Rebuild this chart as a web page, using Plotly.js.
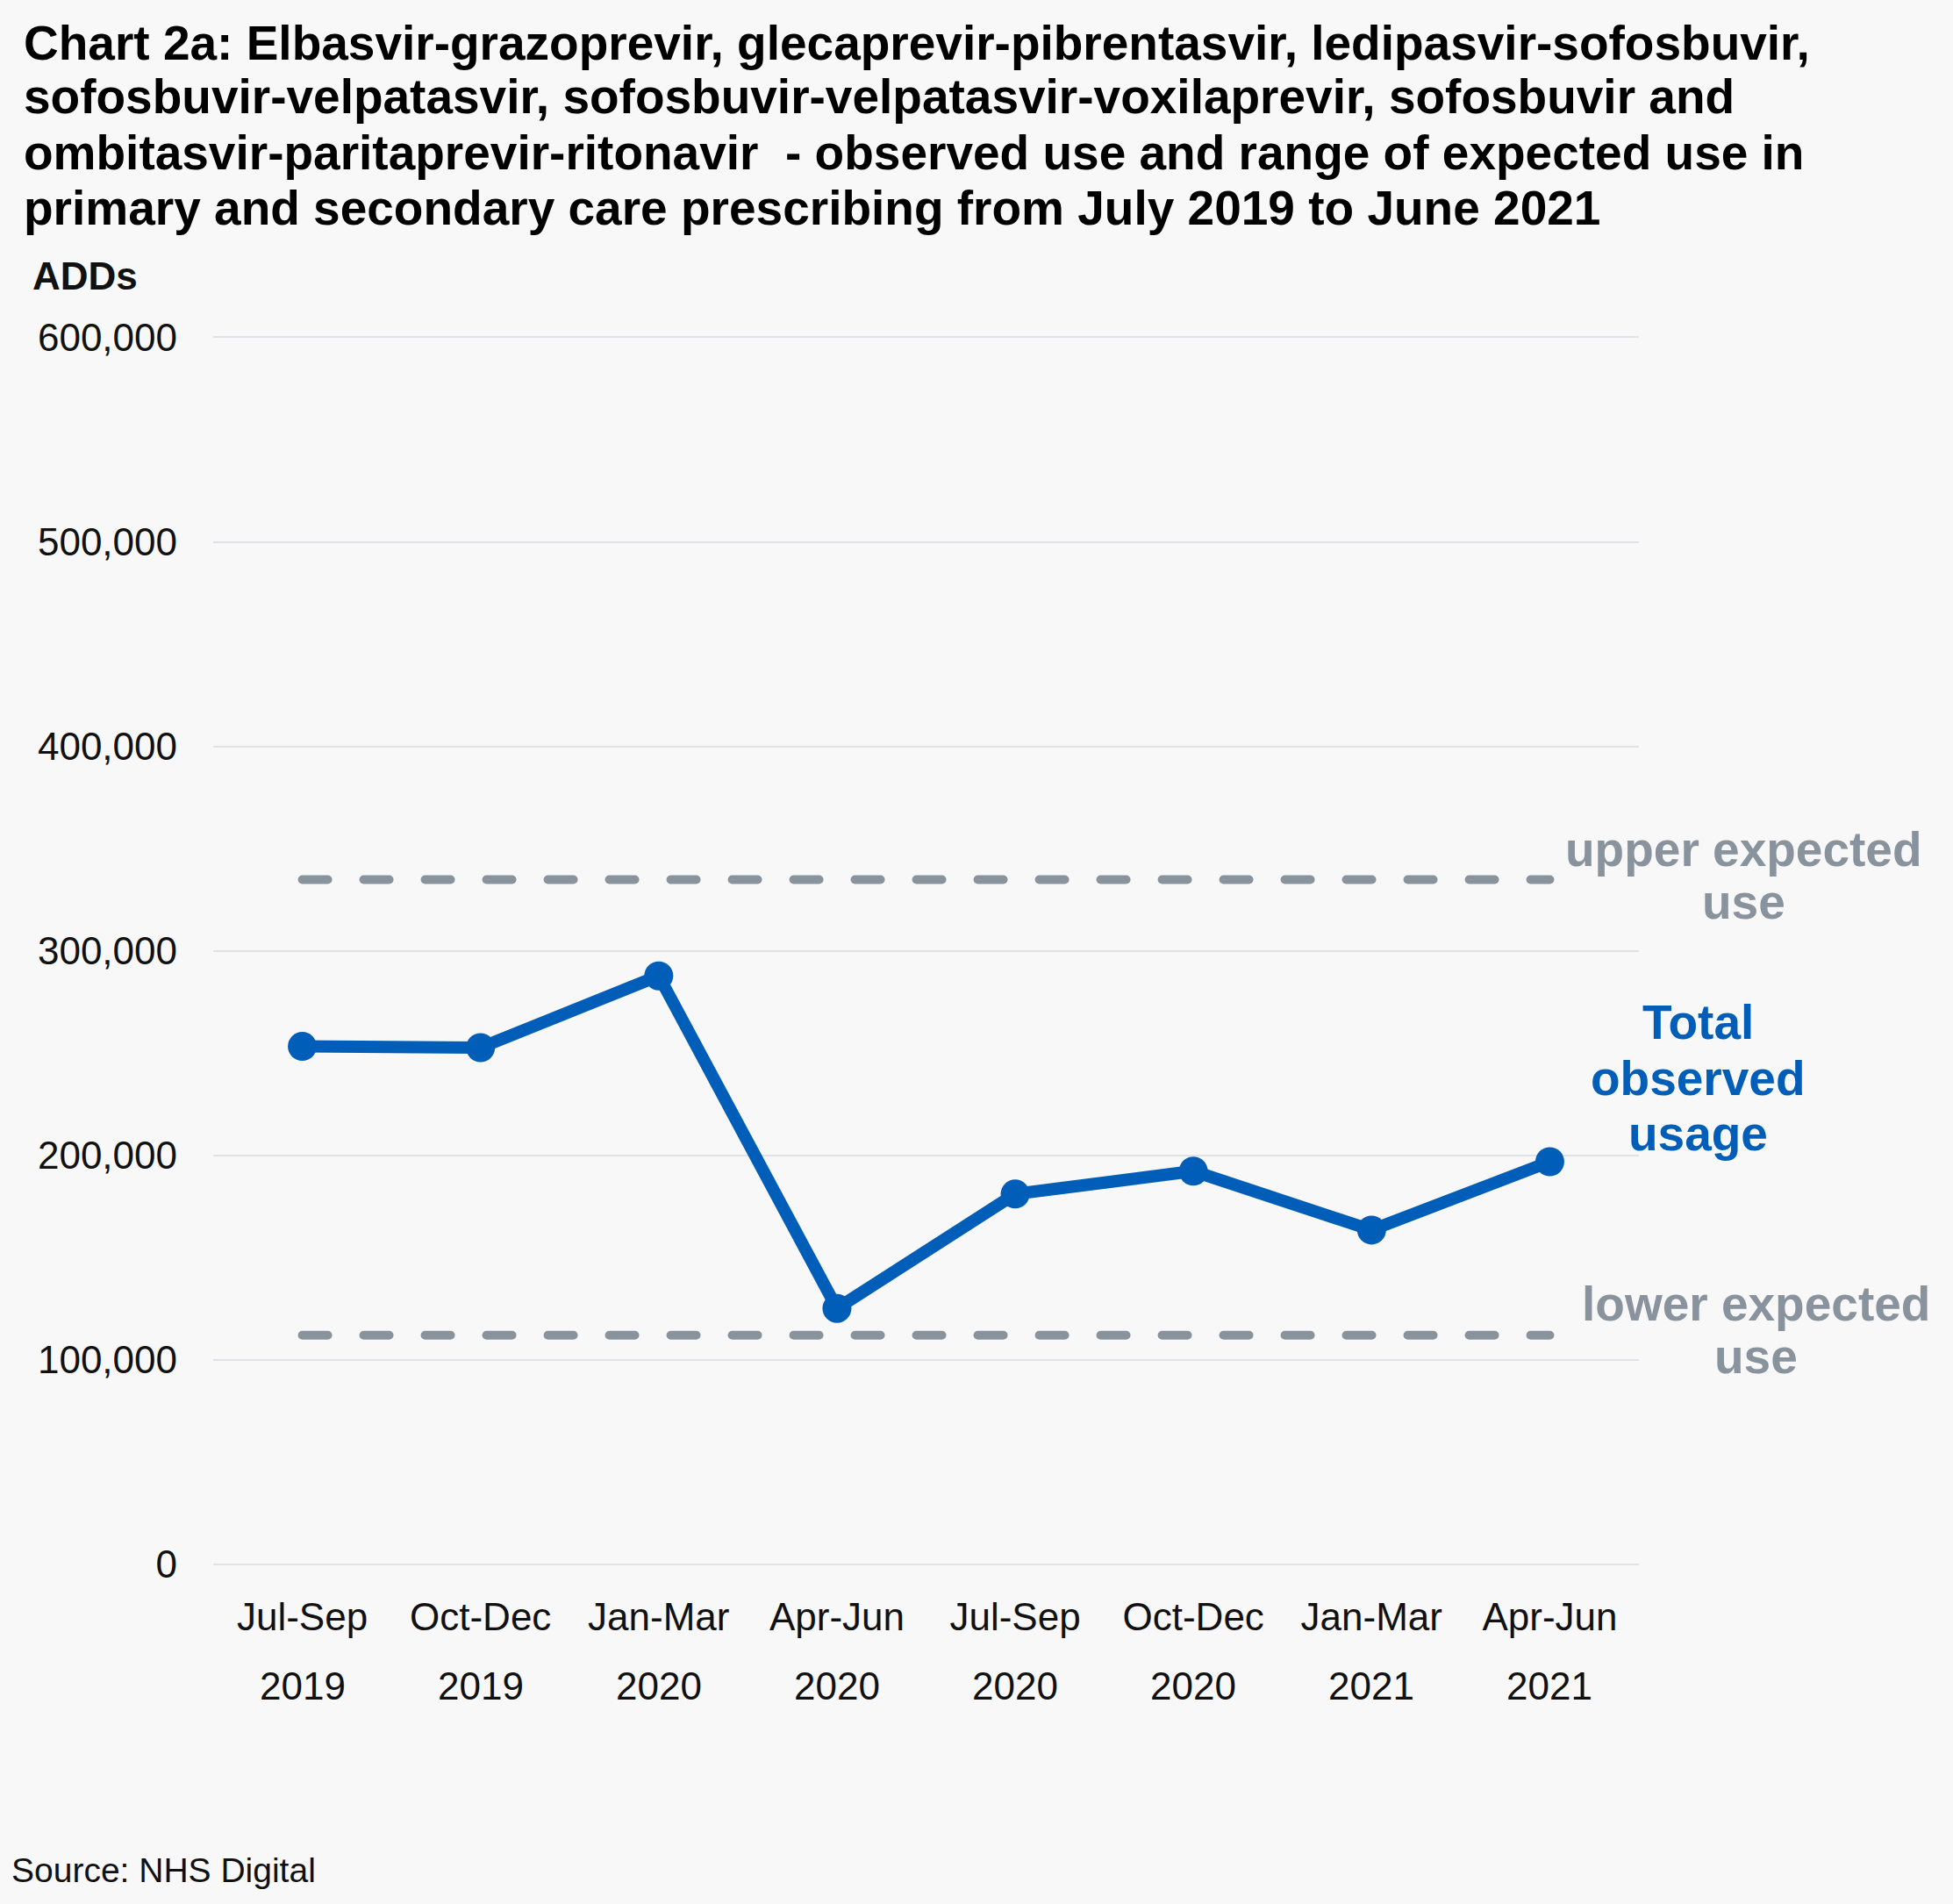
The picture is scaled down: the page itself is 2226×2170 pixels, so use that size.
<!DOCTYPE html>
<html>
<head>
<meta charset="utf-8">
<script src="https://cdn.plot.ly/plotly-3.0.1.min.js"></script>
<style>
  html, body { margin: 0; padding: 0; background: #f8f8f8; }
  #chart { width: 2226px; height: 2170px; }
  /* rounded ends on the line dashes */
  .scatterlayer .js-line { stroke-linecap: round; }
</style>
</head>
<body>
<div id="chart"></div>
<script>
// Quarter labels and their years
const quarters = ["Jul-Sep", "Oct-Dec", "Jan-Mar", "Apr-Jun", "Jul-Sep", "Oct-Dec", "Jan-Mar", "Apr-Jun"];
const years = ["2019", "2019", "2020", "2020", "2020", "2020", "2021", "2021"];

// Total observed usage, ADDs
const observed = [253300, 252700, 287800, 125200, 181100, 192300, 163500, 196900];
// Range of expected use, ADDs
const upperExpected = [334800, 334800, 334800, 334800, 334800, 334800, 334800, 334800];
const lowerExpected = [112100, 112100, 112100, 112100, 112100, 112100, 112100, 112100];

// Y axis ticks
const yTicks = [0, 100000, 200000, 300000, 400000, 500000, 600000];
const yTickText = ["0", "100,000", "200,000", "300,000", "400,000", "500,000", "600,000"];

// Chart heading, one entry per line
const titleLines = [
  "Chart 2a: Elbasvir-grazoprevir, glecaprevir-pibrentasvir, ledipasvir-sofosbuvir,",
  "sofosbuvir-velpatasvir, sofosbuvir-velpatasvir-voxilaprevir, sofosbuvir and",
  "ombitasvir-paritaprevir-ritonavir  - observed use and range of expected use in",
  "primary and secondary care prescribing from July 2019 to June 2021"
];

// End-of-line labels
const upperLabel = ["upper expected", "use"];
const observedLabel = ["Total", "observed", "usage"];
const lowerLabel = ["lower expected", "use"];

const categories = quarters.map((q, i) => q + " " + years[i]);

const BLUE = "#005EB8";
const GREY = "#89939d";
const INK = "#111111";
const FONT = "Liberation Sans, Arial, sans-serif";

const traces = [
  {
    x: categories, y: upperExpected, type: "scatter", mode: "lines",
    line: { color: GREY, width: 10, dash: "29px,41px" }, hoverinfo: "skip", showlegend: false
  },
  {
    x: categories, y: lowerExpected, type: "scatter", mode: "lines",
    line: { color: GREY, width: 10, dash: "29px,41px" }, hoverinfo: "skip", showlegend: false
  },
  {
    x: categories, y: observed, type: "scatter", mode: "lines+markers",
    line: { color: BLUE, width: 14 },
    marker: { color: BLUE, size: 33 },
    showlegend: false
  }
];

const annotations = [];

// Heading lines, left aligned above the plot
const titleY = [1.2386, 1.1950, 1.1493, 1.1043];
titleLines.forEach((t, i) => annotations.push({
  x: -0.13415, xref: "paper", y: titleY[i], yref: "paper", text: t,
  showarrow: false, xanchor: "left", yanchor: "middle",
  font: { family: FONT, size: 55, color: "#000000", weight: "bold" }
}));

// Years under each quarter label
years.forEach((yr, i) => {
  annotations.push({
    x: categories[i], xref: "x", y: -0.0986, yref: "paper",
    text: yr, showarrow: false, xanchor: "center", yanchor: "middle",
    font: { family: FONT, size: 44, color: INK }
  });
});

// Line labels on the right
function addLines(lines, x, ys, color) {
  lines.forEach((t, i) => annotations.push({
    x: x, xref: "paper", y: ys[i], yref: "y", text: t, showarrow: false,
    xanchor: "center", yanchor: "middle",
    font: { family: FONT, size: 55, color: color, weight: "bold" }
  }));
}
addLines(upperLabel, 1.0738, [349500, 323800], GREY);
addLines(observedLabel, 1.0418, [265000, 237800, 210800], BLUE);
addLines(lowerLabel, 1.0824, [127400, 101600], GREY);

// Axis unit label
annotations.push({
  x: -0.128, xref: "paper", y: 1.0486, yref: "paper", text: "ADDs",
  showarrow: false, xanchor: "left", yanchor: "middle",
  font: { family: FONT, size: 44, color: INK, weight: "bold" }
});
// Source note
annotations.push({
  x: -0.1428, xref: "paper", y: -0.2486, yref: "paper", text: "Source: NHS Digital",
  showarrow: false, xanchor: "left", yanchor: "middle",
  font: { family: FONT, size: 39, color: INK }
});

const layout = {
  width: 2226, height: 2170,
  paper_bgcolor: "#f8f8f8", plot_bgcolor: "#f8f8f8",
  margin: { l: 243, r: 358, t: 383, b: 387, pad: 0 },
  font: { family: FONT, color: INK },
  xaxis: {
    type: "category", categoryorder: "array", categoryarray: categories,
    range: [-0.5, 7.5], tickvals: categories, ticktext: quarters,
    showgrid: false, zeroline: false, showline: false, ticks: "",
    ticklabelstandoff: 30,
    tickfont: { family: FONT, size: 44, color: INK }, fixedrange: true
  },
  yaxis: {
    range: [0, 600600], tickvals: yTicks, ticktext: yTickText,
    showgrid: true, gridcolor: "#e1e2e8", gridwidth: 2,
    zeroline: true, zerolinecolor: "#e1e2e8", zerolinewidth: 2,
    showline: false, ticks: "", ticklabelstandoff: 40,
    tickfont: { family: FONT, size: 44, color: INK }, fixedrange: true
  },
  annotations: annotations,
  showlegend: false
};

Plotly.newPlot("chart", traces, layout, { displayModeBar: false, staticPlot: true });
</script>
</body>
</html>
